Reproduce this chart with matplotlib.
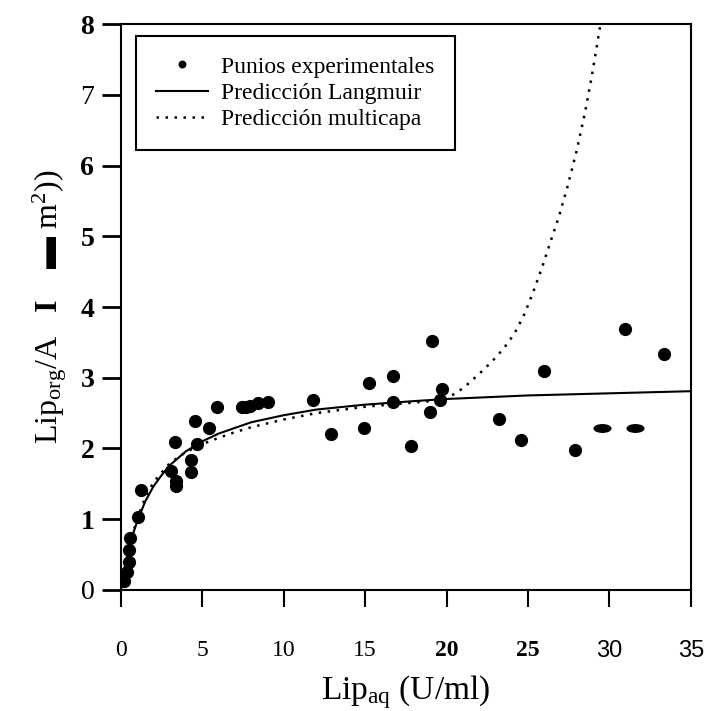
import numpy as np
import matplotlib
matplotlib.use("Agg")
import matplotlib.pyplot as plt
from matplotlib.path import Path

plt.rcParams["font.family"] = ["Liberation Serif", "DejaVu Sans"]
plt.rcParams["mathtext.fontset"] = "custom"
plt.rcParams["mathtext.rm"] = "Liberation Serif"
plt.rcParams["mathtext.it"] = "Liberation Serif:italic"
plt.rcParams["mathtext.bf"] = "Liberation Serif:bold"
plt.rcParams["mathtext.fallback"] = "stix"

exp_x = [0.2, 0.37, 0.49, 0.53, 0.6, 1.04, 1.27, 3.08, 3.36, 3.41, 3.41, 4.31, 4.31,
         4.57, 4.67, 5.43, 5.94, 7.43, 7.68, 7.96, 8.4, 9.02, 11.8, 12.9, 14.95,
         15.26, 16.7, 16.7, 17.82, 19.0, 19.13, 19.6, 19.7, 23.2, 24.6, 25.96,
         27.9, 30.93, 33.34]
exp_y = [0.13, 0.25, 0.40, 0.57, 0.73, 1.03, 1.41, 1.68, 2.09, 1.54, 1.47, 1.84, 1.67,
         2.39, 2.06, 2.29, 2.58, 2.59, 2.58, 2.60, 2.64, 2.66, 2.68, 2.20, 2.29,
         2.93, 3.03, 2.66, 2.03, 2.51, 3.52, 2.68, 2.84, 2.42, 2.12, 3.10,
         1.98, 3.69, 3.34]
# two points that came out smeared in the print
smeared_x = [29.55, 31.55]
smeared_y = [2.29, 2.29]

# Langmuir prediction
lang_x = [0, 0.25, 0.5, 0.75, 1, 1.5, 2, 2.5, 3, 4, 5, 6, 7, 8, 10, 12, 15, 18, 20, 25, 30, 35]
lang_y = [0, 0.32, 0.58, 0.79, 0.96, 1.25, 1.46, 1.62, 1.76, 1.96, 2.10, 2.21, 2.29,
          2.37, 2.47, 2.55, 2.62, 2.67, 2.70, 2.75, 2.78, 2.81]

# multilayer prediction
multi_x = [0, 0.5, 1, 1.5, 2, 3, 4, 5, 6, 7, 8, 10, 12, 15, 18, 19.5, 20.4, 21.0, 21.55,
           22.26, 23.08, 23.8, 24.3, 24.8, 25.3, 25.85, 26.35, 26.9, 27.4, 28.0,
           28.5, 28.9, 29.4, 29.45]
multi_y = [0, 0.60, 1.00, 1.30, 1.52, 1.79, 1.95, 2.06, 2.15, 2.23, 2.30, 2.41, 2.50,
           2.59, 2.65, 2.68, 2.76, 2.85, 2.96, 3.11, 3.30, 3.50, 3.68, 3.91, 4.20, 4.55,
           4.90, 5.28, 5.68, 6.22, 6.75, 7.24, 7.93, 8.0]

x_ticks = [0, 5, 10, 15, 20, 25, 30, 35]
y_ticks = [0, 1, 2, 3, 4, 5, 6, 7, 8]

fig = plt.figure(figsize=(7.05, 7.11), dpi=100)
ax = fig.add_axes([0.1712, 0.1702, 0.8088, 0.796])

ax.plot(lang_x, lang_y, color="black", lw=1.5, label="Predicción Langmuir")
ax.plot(multi_x, multi_y, color="black", lw=1.8, linestyle=(0, (1, 2.6)),
        label="Predicción multicapa")
ax.plot(exp_x, exp_y, "o", color="black", ms=8.5, label="Punios experimentales")

# flattened dots
circ = Path.unit_circle()
ellipse = Path(circ.vertices * np.array([1.0, 0.45]), circ.codes)
ax.plot(smeared_x, smeared_y, linestyle="none", marker=ellipse, color="black", ms=12)

ax.set_xlim(0, 35)
ax.set_ylim(0, 8)
ax.set_xticks(x_ticks)
ax.set_yticks(y_ticks)
ax.tick_params(axis="y", direction="out", length=14, width=2, pad=5, labelsize=20)
ax.tick_params(axis="x", direction="out", length=12, width=1.5, pad=24, labelsize=17)
for s in ax.spines.values():
    s.set_linewidth(1.5)

# the scanned labels mix several type faces
y_bold = [False, True, True, True, True, True, True, False, True]
for lab, b in zip(ax.get_yticklabels(), y_bold):
    lab.set_fontweight("bold" if b else "normal")
x_styles = ["n", "n", "n", "n", "b", "b", "s", "s"]
for lab, st in zip(ax.get_xticklabels(), x_styles):
    if st == "b":
        lab.set_fontweight("bold")
    elif st == "s":
        lab.set_family(["Liberation Sans", "DejaVu Sans"])

ax.set_xlabel("Lip$_{\\mathrm{aq}}$ (U/ml)", fontsize=24, labelpad=8)
ax.set_ylabel("Lip$_{\\mathrm{org}}$/A   $\\mathbf{I}$    \u25ac m$^{2}$))", fontsize=23, labelpad=8)

handles, labels = ax.get_legend_handles_labels()
order = [2, 0, 1]
leg = ax.legend([handles[i] for i in order], [labels[i] for i in order],
                loc="upper left", bbox_to_anchor=(0.027, 0.979), borderaxespad=0,
                fontsize=17, numpoints=1, handlelength=2.2, handletextpad=0.55,
                labelspacing=0.2, borderpad=0.85, fancybox=False, framealpha=1,
                edgecolor="black", markerscale=0.55)
leg.get_frame().set_linewidth(1.5)

fig.savefig("out.png", dpi=100)
